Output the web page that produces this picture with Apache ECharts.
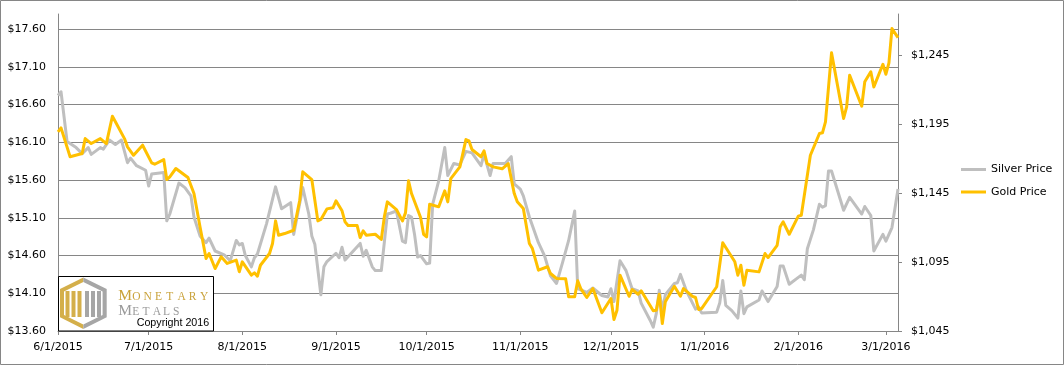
<!DOCTYPE html>
<html><head><meta charset="utf-8">
<script src="https://cdn.jsdelivr.net/npm/echarts@6/dist/echarts.min.js"></script>
<style>html,body{margin:0;padding:0;background:#fff}#c{width:1064px;height:365px}</style>
</head><body><div id="c"></div>
<script>
const silverDates = ['2015-06-01','2015-06-02','2015-06-04','2015-06-07','2015-06-09','2015-06-11','2015-06-12','2015-06-15','2015-06-16','2015-06-18','2015-06-20','2015-06-22','2015-06-24','2015-06-25','2015-06-27','2015-06-30','2015-07-01','2015-07-02','2015-07-06','2015-07-07','2015-07-08','2015-07-11','2015-07-13','2015-07-15','2015-07-16','2015-07-18','2015-07-20','2015-07-21','2015-07-23','2015-07-26','2015-07-28','2015-07-30','2015-07-31','2015-08-01','2015-08-02','2015-08-04','2015-08-05','2015-08-06','2015-08-09','2015-08-12','2015-08-14','2015-08-17','2015-08-18','2015-08-21','2015-08-23','2015-08-24','2015-08-25','2015-08-27','2015-08-28','2015-08-29','2015-09-01','2015-09-02','2015-09-03','2015-09-04','2015-09-09','2015-09-10','2015-09-11','2015-09-13','2015-09-14','2015-09-16','2015-09-18','2015-09-19','2015-09-21','2015-09-23','2015-09-24','2015-09-25','2015-09-26','2015-09-27','2015-09-28','2015-09-29','2015-10-01','2015-10-02','2015-10-03','2015-10-05','2015-10-07','2015-10-08','2015-10-10','2015-10-12','2015-10-14','2015-10-16','2015-10-19','2015-10-20','2015-10-22','2015-10-23','2015-10-27','2015-10-29','2015-10-30','2015-11-01','2015-11-02','2015-11-04','2015-11-07','2015-11-09','2015-11-11','2015-11-13','2015-11-15','2015-11-17','2015-11-19','2015-11-20','2015-11-23','2015-11-25','2015-11-28','2015-11-30','2015-12-01','2015-12-02','2015-12-04','2015-12-06','2015-12-08','2015-12-10','2015-12-11','2015-12-14','2015-12-15','2015-12-16','2015-12-17','2015-12-18','2015-12-19','2015-12-22','2015-12-23','2015-12-24','2015-12-26','2015-12-29','2015-12-30','2015-12-31','2016-01-05','2016-01-06','2016-01-07','2016-01-08','2016-01-10','2016-01-12','2016-01-13','2016-01-14','2016-01-15','2016-01-19','2016-01-20','2016-01-22','2016-01-25','2016-01-26','2016-01-27','2016-01-29','2016-02-02','2016-02-03','2016-02-04','2016-02-06','2016-02-08','2016-02-09','2016-02-10','2016-02-11','2016-02-12','2016-02-16','2016-02-18','2016-02-22','2016-02-23','2016-02-25','2016-02-26','2016-02-29','2016-03-01','2016-03-03','2016-03-05'];
const silverPrices = [16.72,16.77,16.11,16.03,15.95,16.03,15.94,16.03,16.01,16.13,16.07,16.13,15.83,15.89,15.79,15.73,15.52,15.68,15.70,15.06,15.15,15.56,15.50,15.39,15.11,14.86,14.77,14.83,14.66,14.61,14.53,14.80,14.74,14.76,14.60,14.45,14.57,14.62,15.02,15.51,15.22,15.30,14.88,15.50,15.15,14.86,14.75,14.08,14.45,14.52,14.63,14.57,14.71,14.54,14.76,14.59,14.67,14.45,14.40,14.40,15.15,15.16,15.19,14.79,14.77,15.13,15.11,14.88,14.58,14.60,14.49,14.50,15.28,15.59,16.03,15.66,15.82,15.80,15.98,15.96,15.79,15.94,15.66,15.82,15.82,15.91,15.55,15.48,15.39,15.11,14.77,14.60,14.33,14.23,14.51,14.80,15.19,14.16,14.11,14.17,14.07,14.05,14.16,13.99,14.53,14.40,14.16,14.13,13.97,13.74,13.65,13.83,14.14,13.87,14.08,14.23,14.24,14.35,14.13,13.89,13.92,13.84,13.85,13.97,14.27,13.94,13.87,13.77,14.13,13.83,13.92,14.01,14.13,13.99,14.19,14.46,14.46,14.22,14.34,14.28,14.69,14.94,15.28,15.24,15.26,15.72,15.72,15.20,15.37,15.15,15.25,15.13,14.66,14.88,14.79,14.97,15.48];
const goldDates = ['2015-06-01','2015-06-02','2015-06-05','2015-06-09','2015-06-10','2015-06-12','2015-06-15','2015-06-17','2015-06-19','2015-06-20','2015-06-23','2015-06-24','2015-06-26','2015-06-29','2015-07-02','2015-07-03','2015-07-06','2015-07-07','2015-07-08','2015-07-10','2015-07-14','2015-07-16','2015-07-18','2015-07-20','2015-07-21','2015-07-23','2015-07-25','2015-07-27','2015-07-30','2015-07-31','2015-08-01','2015-08-04','2015-08-05','2015-08-06','2015-08-07','2015-08-10','2015-08-11','2015-08-12','2015-08-13','2015-08-15','2015-08-18','2015-08-20','2015-08-21','2015-08-24','2015-08-26','2015-08-27','2015-08-29','2015-08-31','2015-09-01','2015-09-03','2015-09-04','2015-09-05','2015-09-08','2015-09-09','2015-09-10','2015-09-11','2015-09-14','2015-09-16','2015-09-17','2015-09-18','2015-09-21','2015-09-23','2015-09-24','2015-09-25','2015-09-26','2015-09-29','2015-09-30','2015-10-01','2015-10-02','2015-10-05','2015-10-07','2015-10-08','2015-10-09','2015-10-12','2015-10-14','2015-10-15','2015-10-16','2015-10-19','2015-10-20','2015-10-21','2015-10-23','2015-10-26','2015-10-28','2015-10-30','2015-10-31','2015-11-02','2015-11-04','2015-11-05','2015-11-07','2015-11-10','2015-11-11','2015-11-13','2015-11-16','2015-11-17','2015-11-19','2015-11-20','2015-11-21','2015-11-23','2015-11-25','2015-11-28','2015-12-01','2015-12-02','2015-12-03','2015-12-04','2015-12-07','2015-12-08','2015-12-10','2015-12-11','2015-12-15','2015-12-16','2015-12-17','2015-12-18','2015-12-19','2015-12-22','2015-12-24','2015-12-25','2015-12-28','2015-12-29','2015-12-30','2015-12-31','2016-01-05','2016-01-07','2016-01-11','2016-01-12','2016-01-13','2016-01-14','2016-01-15','2016-01-19','2016-01-21','2016-01-22','2016-01-25','2016-01-26','2016-01-27','2016-01-29','2016-02-01','2016-02-02','2016-02-05','2016-02-08','2016-02-09','2016-02-10','2016-02-12','2016-02-16','2016-02-17','2016-02-18','2016-02-22','2016-02-23','2016-02-25','2016-02-26','2016-02-29','2016-03-01','2016-03-02','2016-03-03','2016-03-05'];
const goldPrices = [1189.5,1192.4,1171.4,1173.8,1184.6,1181,1184.6,1181,1200.8,1196.8,1184.6,1178.6,1172.5,1179.8,1167,1166,1169.4,1154.9,1156.9,1162.9,1156.4,1144.7,1120.6,1097.6,1101.2,1090.3,1098.8,1094,1096.4,1088,1095.2,1085.5,1087.2,1084.8,1092.7,1101.2,1108.5,1124.9,1114.5,1115.7,1118.1,1139.9,1160.5,1154.9,1124.9,1125.9,1133.6,1134.4,1139.4,1132.2,1124.2,1121.5,1121.5,1112.8,1117.7,1114.5,1115.2,1111.4,1127.8,1138.7,1133.1,1124.9,1130.7,1154,1144.7,1127.3,1115.2,1113.3,1137,1135.1,1146.7,1138.7,1155.6,1164.1,1183.9,1183,1176.7,1171.4,1175.7,1166.5,1164.1,1162.7,1166.5,1144.7,1138.7,1133.9,1108.5,1104.8,1089.1,1091.6,1086.7,1083.1,1083,1069.8,1069.8,1081.4,1075.8,1069.3,1075.8,1058.2,1068.6,1053.3,1060.1,1085.5,1070.2,1075.1,1071.7,1074.2,1059.7,1060.1,1071.7,1050.4,1066.2,1077.5,1070.2,1075.8,1070.2,1069.3,1060.6,1061.3,1077.1,1109,1095.2,1085.5,1092.7,1078.2,1089.1,1087.9,1101.2,1098.3,1107.2,1120.6,1124.2,1115.2,1128.3,1129,1172.5,1188.3,1188.8,1196.8,1246.8,1199.2,1207.6,1230.6,1208.1,1225.8,1233.1,1222.1,1238.5,1231.3,1239.6,1264.4,1257.9];
const monthTicks = ['2015-06-01','2015-07-01','2015-08-01','2015-09-01','2015-10-01','2015-11-01','2015-12-01','2016-01-01','2016-02-01','2016-03-01'];
const goldTicks = [1045,1095,1145,1195,1245];
const seriesNames = ['Silver Price','Gold Price'];

function toTs(s){ const p = s.split('-').map(Number); return new Date(p[0], p[1]-1, p[2]).getTime(); }
function fmtDate(v){ const d = new Date(v); return (d.getMonth()+1)+'/'+d.getDate()+'/'+d.getFullYear(); }
function fmtGold(v){ return '$' + Math.floor(v/1000) + ',' + String(Math.round(v)%1000).padStart(3,'0'); }

const FONT = 'DejaVu Sans';
const AXC = '#868686';
const chart = echarts.init(document.getElementById('c'), null, {renderer:'canvas'});

const gold = '#D4AF4A', grey = '#A6A6A6';
const logo = [];
logo.push({type:'rect', z:100, shape:{x:58.5,y:276.5,width:155,height:54.5}, style:{fill:'#fff', stroke:'#000', lineWidth:1}});
logo.push({type:'polygon', z:101, shape:{points:[[83.3,277.5],[60,289],[60,317.3],[83.3,329]]}, style:{fill:gold}});
logo.push({type:'polygon', z:101, shape:{points:[[83.3,277.5],[106.7,289],[106.7,317.3],[83.3,329]]}, style:{fill:grey}});
logo.push({type:'polygon', z:102, shape:{points:[[83.3,282],[64,291.5],[64,315],[83.3,324.5],[102.6,315],[102.6,291.5]]}, style:{fill:'#fff'}});
[[65.5,4],[71.5,4],[77.5,4]].forEach(b=>logo.push({type:'rect', z:103, shape:{x:b[0],y:291,width:b[1],height:26}, style:{fill:gold}}));
[[85,4],[91,4],[97,4]].forEach(b=>logo.push({type:'rect', z:103, shape:{x:b[0],y:291,width:b[1],height:26}, style:{fill:grey}}));
function spaced(word, x0, big, small, step, yBig, ySmall, color){
  word.split('').forEach((ch,i)=>{
    const first = i===0;
    logo.push({type:'text', z:104, style:{text:ch, x: first? x0 : x0 + 14 + (i-1)*step, y: first? yBig : ySmall,
      font: (first?big:small)+'px "Liberation Serif"', fill:color, align:'left', verticalAlign:'middle'}});
  });
}
spaced('MONETARY', 118.3, 15.5, 11.5, 11.3, 295.8, 297.2, '#C9A23A');
spaced('METALS', 118.3, 15.5, 11.5, 10.2, 310.6, 312, '#9A9A9A');
logo.push({type:'text', z:104, style:{text:'Copyright 2016', x:136.7, y:323.3, font:'10.7px "Liberation Sans"', fill:'#000', align:'left', verticalAlign:'middle'}});

const option = {
  animation:false,
  backgroundColor:'#fff',
  grid:{left:58, right:166, top:14, bottom:34, containLabel:false},
  legend:{orient:'vertical', left:961, top:164, padding:0, itemWidth:25, itemHeight:3, icon:'rect', itemGap:11.5,
    textStyle:{fontFamily:FONT, fontSize:11, color:'#000'}, data:seriesNames},
  xAxis:{type:'value', min:toTs('2015-06-01'), max:toTs('2016-03-05'),
    axisLine:{show:true, lineStyle:{color:AXC, width:1}},
    axisTick:{show:true, length:4, lineStyle:{color:AXC}, customValues:monthTicks.map(toTs)},
    axisLabel:{customValues:monthTicks.map(toTs), formatter:fmtDate, fontFamily:FONT, fontSize:11, color:'#000', margin:11, hideOverlap:false},
    splitLine:{show:false}},
  yAxis:[
    {type:'value', position:'left', min:13.6, max:17.8, interval:0.5,
     axisLine:{show:true, lineStyle:{color:AXC, width:1}}, axisTick:{show:false},
     axisLabel:{formatter:v=>'$'+v.toFixed(2), showMaxLabel:false, fontFamily:FONT, fontSize:11, color:'#000', margin:12},
     splitLine:{show:true, showMaxLine:false, lineStyle:{color:AXC, width:1}}},
    {type:'value', position:'right', min:1045, max:1275, interval:50,
     axisLine:{show:true, lineStyle:{color:AXC, width:1}},
     axisTick:{show:true, length:4, lineStyle:{color:AXC}, customValues:goldTicks},
     axisLabel:{customValues:goldTicks, formatter:fmtGold, fontFamily:FONT, fontSize:11, color:'#000', margin:13},
     splitLine:{show:false}}
  ],
  series:[
    {name:seriesNames[0], type:'line', yAxisIndex:0, symbol:'none', showSymbol:false, color:'#BFBFBF',
     lineStyle:{width:3, color:'#BFBFBF', join:'round'}, z:2,
     data:silverDates.map((d,i)=>[toTs(d), silverPrices[i]])},
    {name:seriesNames[1], type:'line', yAxisIndex:1, symbol:'none', showSymbol:false, color:'#FFC000',
     lineStyle:{width:3, color:'#FFC000', join:'round'}, z:3,
     data:goldDates.map((d,i)=>[toTs(d), goldPrices[i]])}
  ],
  graphic:[
    {type:'rect', z:100, shape:{x:0.5,y:0.5,width:1063,height:364}, style:{fill:'none', stroke:AXC, lineWidth:1}, silent:true},
    ...logo
  ]
};
chart.setOption(option);
</script></body></html>
